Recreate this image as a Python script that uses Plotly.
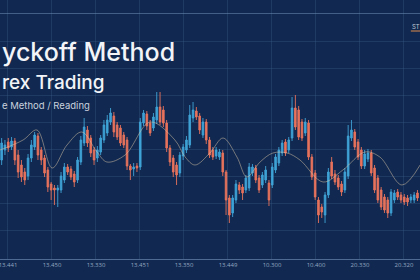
import plotly.graph_objects as go

# ---- data ----
open_ = [100,110,118,113,119,105,95,88,84,102,113,124,110,102,90,76,72,70,70,80,
         93,91,86,80,98,117,130,122,110,102,108,120,127,138,144,135,132,125,120,94,
         91,94,93,137,146,137,132,140,153,150,137,112,102,95,87,104,110,115,142,149,
         144,125,138,120,110,104,103,107,88,62,47,60,75,73,70,72,87,92,82,75,
         80,77,75,90,97,107,118,110,122,152,150,138,127,137,103,87,60,53,45,65,
         98,86,82,76,70,84,122,128,118,110,94,101,107,92,82,70,63,60,47,60,
         68,65,63,62,60,60,67]
high = [122,120,122,123,122,110,100,92,106,120,128,127,113,105,93,78,75,75,88,97,
        96,94,89,103,124,142,134,125,113,114,125,140,145,152,148,138,135,128,123,96,
        97,97,142,150,149,140,147,168,168,154,140,115,105,98,108,116,124,155,158,153,
        147,142,141,123,113,113,111,110,90,65,65,80,78,76,85,97,96,95,85,88,
        94,80,97,106,113,120,121,123,163,165,154,141,142,140,106,90,63,56,68,92,
        103,90,85,79,92,135,140,131,121,113,110,111,110,95,85,73,66,63,71,70,
        71,68,66,65,66,68,70]
low = [95,105,108,110,95,82,78,75,80,98,110,100,95,83,68,60,55,53,67,77,
       85,80,73,77,95,114,113,103,95,98,105,117,124,135,123,120,114,112,90,80,
       84,88,90,134,130,124,129,136,135,133,108,94,83,75,83,100,107,112,138,140,
       126,122,116,102,100,101,100,84,45,37,43,57,66,60,67,69,84,77,67,72,
       77,54,72,87,94,104,104,107,119,130,120,119,124,100,80,60,37,42,37,62,
       81,75,70,64,67,81,119,110,100,91,91,98,84,67,57,50,47,42,44,57,
       60,57,55,54,57,57,59]
close = [117,115,112,119,100,88,83,80,102,115,125,105,100,87,73,70,70,72,84,93,
         88,83,78,100,120,133,117,107,100,110,122,135,140,147,128,123,117,115,94,90,
         93,92,138,147,134,127,143,153,138,137,112,98,88,85,105,113,120,145,150,143,
         130,138,120,105,103,110,108,88,60,45,62,76,70,67,82,93,93,80,70,85,
         90,60,93,103,110,117,107,120,152,133,123,122,138,103,83,63,45,48,65,88,
         84,78,73,68,88,124,130,113,103,94,106,107,87,70,60,53,50,47,68,67,
         63,60,58,58,63,65,62]
t = list(range(len(open_)))

# slow moving-average style line
ma_t = [-0.5, 6.5, 10.7, 15.3, 19.8, 24.3, 28.9, 31.9, 37.4, 45.0, 52.5, 55.6, 58.6,
        63.1, 67.1, 71.3, 74.3, 78.3, 82.2, 86.5, 90.4, 97.4, 103.4, 110.1, 114.6,
        121.3, 126.8]
ma_v = [110, 120, 130, 92, 115, 128, 108, 98, 105, 138, 120, 103, 95,
        107, 122, 103, 83, 98, 107, 107, 100, 78, 90, 108, 103, 75, 95]

tick_labels = ["13.441", "13.450", "13.330", "13.451", "13.350",
               "13.449", "10.300", "10.400", "20.330", "20.320"]

# ---- styling ----
BG = "#112950"
BLUE = "#3fa3d6"
RED = "#e8735c"
GRID = "rgba(70,105,150,0.28)"

tick0, tstep = 1.92, 13.333
tickvals = [tick0 + k * tstep for k in range(len(tick_labels))]

fig = go.Figure()
fig.add_trace(go.Candlestick(
    x=t, open=open_, high=high, low=low, close=close,
    increasing=dict(line=dict(color=BLUE, width=0.9), fillcolor=BLUE),
    decreasing=dict(line=dict(color=RED, width=0.9), fillcolor=RED),
    whiskerwidth=0, showlegend=False, hoverinfo="skip",
))
fig.add_trace(go.Scatter(
    x=ma_t, y=ma_v, mode="lines", showlegend=False, hoverinfo="skip",
    line=dict(color="rgba(222,200,170,0.7)", width=0.7, shape="spline", smoothing=1.0),
))

fig.update_layout(
    width=420, height=280, autosize=False,
    margin=dict(l=0, r=0, t=0, b=21, pad=0, autoexpand=False),
    paper_bgcolor=BG, plot_bgcolor=BG,
    showlegend=False,
    xaxis=dict(
        range=[-0.5, 126.77], rangeslider=dict(visible=False),
        tickmode="array", tickvals=tickvals, ticktext=tick_labels,
        tickfont=dict(size=6, color="#94a7c2", family="Open Sans"),
        ticklabeloverflow="allow",
        showgrid=True, gridcolor=GRID, gridwidth=1,
        showline=True, linecolor="rgba(120,150,190,0.6)", linewidth=1,
        zeroline=False, ticks="",
    ),
    yaxis=dict(
        range=[1, 260],
        tickmode="array", tickvals=[30, 57, 84, 111, 138, 165, 192, 219],
        showticklabels=False, showgrid=True, gridcolor=GRID, gridwidth=1,
        zeroline=False,
    ),
    shapes=[
        dict(type="line", xref="paper", yref="y", x0=0, x1=1, y0=246.5, y1=246.5,
             line=dict(color="rgba(110,140,180,0.55)", width=1)),
        dict(type="line", xref="x", yref="y", x0=124.0, x1=127, y0=229, y1=229,
             line=dict(color="#e08a4a", width=1)),
    ],
    annotations=[
        dict(text="yckoff Method", xref="paper", yref="y", x=0, y=208, xanchor="left",
             yanchor="middle", showarrow=False,
             font=dict(family="Inter", size=25, color="#f2f4f8", weight=500)),
        dict(text="rex Trading", xref="paper", yref="y", x=0, y=178, xanchor="left",
             yanchor="middle", showarrow=False,
             font=dict(family="Inter", size=19, color="#f2f4f8", weight=500)),
        dict(text="e Method / Reading", xref="paper", yref="y", x=0, y=155, xanchor="left",
             yanchor="middle", showarrow=False,
             font=dict(family="Inter", size=9.5, color="#c9d2df")),
        dict(text="ST", xref="x", yref="y", x=123.6, y=234, xanchor="left",
             yanchor="middle", showarrow=False,
             font=dict(family="Inter", size=6, color="#c0c9d6")),
    ],
)

fig.write_html("out.html")
